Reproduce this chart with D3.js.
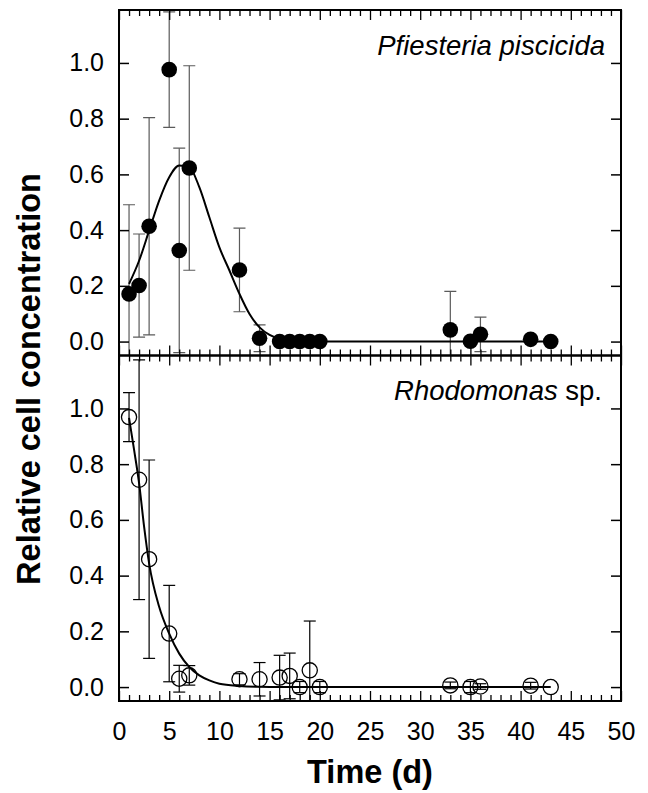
<!DOCTYPE html>
<html><head><meta charset="utf-8">
<script src="https://cdn.jsdelivr.net/npm/d3@7"></script>
<style>body{margin:0;background:#fff}svg{display:block}</style>
</head><body>
<svg id="chart" width="648" height="793"></svg>
<script>
// ---- data ----
const pfTime  = [1, 2, 3, 5, 6, 7, 12, 14, 16, 17, 18, 19, 20, 33, 35, 36, 41, 43];
const pfValue = [0.171, 0.201, 0.414, 0.976, 0.327, 0.623, 0.257, 0.012, 0, 0, 0, 0, 0, 0.042, 0.001, 0.026, 0.008, 0];
const pfSD    = [0.32, 0.185, 0.39, 0.207, 0.367, 0.367, 0.15, 0.048, 0, 0, 0, 0, 0, 0.138, 0.01, 0.062, 0, 0];

const rhTime  = [1, 2, 3, 5, 6, 7, 12, 14, 16, 17, 18, 19, 20, 33, 35, 36, 41, 43];
const rhValue = [0.969, 0.744, 0.459, 0.192, 0.030, 0.042, 0.028, 0.028, 0.034, 0.040, 0, 0.06, 0, 0.006, 0, 0.002, 0.005, 0];
const rhSD    = [0.088, 0.43, 0.356, 0.173, 0.048, 0.035, 0.02, 0.06, 0.08, 0.082, 0.02, 0.177, 0.02, 0.012, 0.02, 0.01, 0.012, 0];

const pfFitTime  = [1, 2, 3, 4, 5, 6, 7, 8, 9, 10, 11, 12, 13, 14, 15, 16, 17, 18, 20, 25, 30, 35, 40, 43];
const pfFitValue = [0.207, 0.29, 0.398, 0.506, 0.59, 0.632, 0.626, 0.554, 0.446, 0.338, 0.255, 0.171, 0.099, 0.051, 0.024, 0.01, 0.004, 0.001, 0, 0, 0, 0, 0, 0];

const rhFitTime  = [1, 1.5, 2, 2.5, 3, 4, 5, 6, 7, 8, 9, 10, 12, 14, 16, 20, 30, 43];
const rhFitValue = [0.966, 0.852, 0.732, 0.576, 0.444, 0.288, 0.192, 0.12, 0.072, 0.042, 0.024, 0.012, 0.004, 0.001, 0, 0, 0, 0];

const xMajorTicks = [0, 5, 10, 15, 20, 25, 30, 35, 40, 45, 50];
const xMinorTicks = d3.range(0, 51).filter(d => d % 5 !== 0);
const yTicks = [0, 0.2, 0.4, 0.6, 0.8, 1.0];
const xTitle = "Time (d)";
const yTitle = "Relative cell concentration";

// ---- layout ----
const svg = d3.select("#chart");
const L = 119, R = 621, T = 10, M = 355.5, B = 701;
const FONT = "'Liberation Sans', Arial, Helvetica, sans-serif";

const x = d3.scaleLinear().domain([0, 50]).range([L, R]);
const panels = [
  {name: "pf", top: T, bottom: M, time: pfTime, value: pfValue, sd: pfSD,
   fitT: pfFitTime, fitV: pfFitValue, filled: true, barColor: "#5a5a5a"},
  {name: "rh", top: M, bottom: B, time: rhTime, value: rhValue, sd: rhSD,
   fitT: rhFitTime, fitV: rhFitValue, filled: false, barColor: "#000"}
];

const defs = svg.append("defs");

panels.forEach((p, i) => {
  const y = d3.scaleLinear().domain([-0.05, 1.19]).range([p.bottom, p.top]);
  defs.append("clipPath").attr("id", "clip" + i)
    .append("rect").attr("x", L).attr("y", p.top).attr("width", R - L).attr("height", p.bottom - p.top);

  const g = svg.append("g");
  const clipped = g.append("g").attr("clip-path", `url(#clip${i})`);

  // error bars
  const pts = p.time.map((t, k) => ({t, v: p.value[k], sd: p.sd[k]}));
  const eb = clipped.append("g").attr("stroke", p.barColor).attr("stroke-width", 1.2).attr("fill", "none");
  pts.filter(d => d.sd > 0).forEach(d => {
    const xx = x(d.t);
    eb.append("line").attr("x1", xx).attr("x2", xx).attr("y1", y(d.v + d.sd)).attr("y2", y(d.v - d.sd));
    [d.v + d.sd, d.v - d.sd].forEach(e => {
      eb.append("line").attr("x1", xx - 6).attr("x2", xx + 6).attr("y1", y(e)).attr("y2", y(e));
    });
  });

  // fitted curve
  const line = d3.line().x((d, k) => x(d)).y((d, k) => y(p.fitV[k])).curve(d3.curveMonotoneX);
  clipped.append("path").attr("d", line(p.fitT)).attr("fill", "none").attr("stroke", "#000").attr("stroke-width", 2);

  // markers
  g.append("g").selectAll("circle").data(pts).join("circle")
    .attr("cx", d => x(d.t)).attr("cy", d => y(d.v))
    .attr("r", p.filled ? 7.8 : 7.6)
    .attr("fill", p.filled ? "#000" : "none")
    .attr("stroke", "#000").attr("stroke-width", p.filled ? 0 : 1.3);

  // y axes (ticks inward)
  const yl = g.append("g").attr("transform", `translate(${L},0)`)
    .call(d3.axisLeft(y).tickValues(yTicks).tickSizeInner(-10).tickSizeOuter(0).tickPadding(15).tickFormat(d3.format(".1f")));
  const yr = g.append("g").attr("transform", `translate(${R},0)`)
    .call(d3.axisRight(y).tickValues(yTicks).tickSizeInner(-10).tickSizeOuter(0).tickFormat(""));
  [yl, yr].forEach(a => {
    a.select(".domain").remove();
    a.selectAll("line").attr("stroke", "#000").attr("stroke-width", 1.5);
    a.selectAll("text").attr("font-family", FONT).attr("font-size", 25).attr("fill", "#000");
  });

  // x axes: top edge (ticks down) and bottom edge (ticks up)
  const addX = (gen, yy, vals, size, labels) => {
    const a = g.append("g").attr("transform", `translate(0,${yy})`)
      .call(gen(x).tickValues(vals).tickSizeInner(-size).tickSizeOuter(0).tickPadding(labels ? 20 : 0)
        .tickFormat(labels ? d3.format("d") : ""));
    a.select(".domain").remove();
    a.selectAll("line").attr("stroke", "#000").attr("stroke-width", 1.3);
    a.selectAll("text").attr("font-family", FONT).attr("font-size", 25).attr("fill", "#000");
    return a;
  };
  addX(d3.axisTop, p.top, xMinorTicks, 6, false);
  addX(d3.axisTop, p.top, xMajorTicks, 10, false);
  addX(d3.axisBottom, p.bottom, xMinorTicks, 6, false);
  const isLast = i === panels.length - 1;
  const bx = addX(d3.axisBottom, p.bottom, xMajorTicks, 10, isLast);
  if (isLast) {
    bx.selectAll("text").attr("dy", null).attr("y", 39);
  }

  // frame
  g.append("rect").attr("x", L).attr("y", p.top).attr("width", R - L).attr("height", p.bottom - p.top)
    .attr("fill", "none").attr("stroke", "#000").attr("stroke-width", 2);
});

// species labels
const lab1 = svg.append("text").attr("x", 605).attr("y", 55).attr("text-anchor", "end")
  .attr("font-family", FONT).attr("font-size", 27.5).attr("font-style", "italic").text("Pfiesteria piscicida");
const lab2 = svg.append("text").attr("x", 602).attr("y", 400).attr("text-anchor", "end")
  .attr("font-family", FONT).attr("font-size", 27.5);
lab2.append("tspan").attr("font-style", "italic").text("Rhodomonas");
lab2.append("tspan").text(" sp.");

// axis titles
svg.append("text").attr("x", 370).attr("y", 783).attr("text-anchor", "middle")
  .attr("font-family", FONT).attr("font-size", 32.5).attr("font-weight", "bold").text(xTitle);
svg.append("text").attr("transform", "translate(40,379) rotate(-90)").attr("text-anchor", "middle")
  .attr("font-family", FONT).attr("font-size", 32.5).attr("font-weight", "bold").text(yTitle);
</script>
</body></html>
